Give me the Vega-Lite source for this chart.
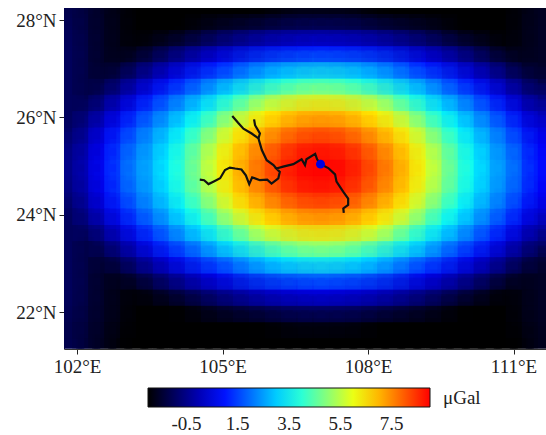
{"$schema":"https://vega.github.io/schema/vega-lite/v6.json","width":482,"height":341,"autosize":"none","padding":{"left":64,"top":8,"right":0,"bottom":86},"background":"white","config":{"view":{"stroke":null},"font":"Liberation Serif"},
"datasets":{"grid":[
{"x":101.9,"y":28.13,"v":-1.15},{"x":102.23,"y":28.13,"v":-1.4},{"x":102.56,"y":28.13,"v":-1.65},{"x":102.89,"y":28.13,"v":-1.85},{"x":103.22,"y":28.13,"v":-2},{"x":103.55,"y":28.13,"v":-2},{"x":103.89,"y":28.13,"v":-2},{"x":104.22,"y":28.13,"v":-2},{"x":104.55,"y":28.13,"v":-2},{"x":104.88,"y":28.13,"v":-2},{"x":105.21,"y":28.13,"v":-2},{"x":105.54,"y":28.13,"v":-2},{"x":105.87,"y":28.13,"v":-1.95},{"x":106.2,"y":28.13,"v":-1.85},{"x":106.53,"y":28.13,"v":-1.75},{"x":106.87,"y":28.13,"v":-1.75},{"x":107.2,"y":28.13,"v":-1.75},{"x":107.53,"y":28.13,"v":-1.75},{"x":107.86,"y":28.13,"v":-1.85},{"x":108.19,"y":28.13,"v":-1.95},{"x":108.52,"y":28.13,"v":-2},{"x":108.85,"y":28.13,"v":-2},{"x":109.18,"y":28.13,"v":-2},{"x":109.52,"y":28.13,"v":-2},{"x":109.85,"y":28.13,"v":-2},{"x":110.18,"y":28.13,"v":-2},{"x":110.51,"y":28.13,"v":-2},{"x":110.84,"y":28.13,"v":-2},{"x":111.17,"y":28.13,"v":-1.85},{"x":111.5,"y":28.13,"v":-1.65},
{"x":101.9,"y":27.8,"v":-1.05},{"x":102.23,"y":27.8,"v":-1.35},{"x":102.56,"y":27.8,"v":-1.6},{"x":102.89,"y":27.8,"v":-1.8},{"x":103.22,"y":27.8,"v":-2},{"x":103.55,"y":27.8,"v":-2},{"x":103.89,"y":27.8,"v":-2},{"x":104.22,"y":27.8,"v":-1.9},{"x":104.55,"y":27.8,"v":-1.65},{"x":104.88,"y":27.8,"v":-1.4},{"x":105.21,"y":27.8,"v":-1.2},{"x":105.54,"y":27.8,"v":-1},{"x":105.87,"y":27.8,"v":-0.85},{"x":106.2,"y":27.8,"v":-0.7},{"x":106.53,"y":27.8,"v":-0.65},{"x":106.87,"y":27.8,"v":-0.6},{"x":107.2,"y":27.8,"v":-0.6},{"x":107.53,"y":27.8,"v":-0.65},{"x":107.86,"y":27.8,"v":-0.7},{"x":108.19,"y":27.8,"v":-0.85},{"x":108.52,"y":27.8,"v":-1},{"x":108.85,"y":27.8,"v":-1.2},{"x":109.18,"y":27.8,"v":-1.4},{"x":109.52,"y":27.8,"v":-1.65},{"x":109.85,"y":27.8,"v":-1.9},{"x":110.18,"y":27.8,"v":-2},{"x":110.51,"y":27.8,"v":-2},{"x":110.84,"y":27.8,"v":-2},{"x":111.17,"y":27.8,"v":-1.8},{"x":111.5,"y":27.8,"v":-1.6},
{"x":101.9,"y":27.47,"v":-1},{"x":102.23,"y":27.47,"v":-1.3},{"x":102.56,"y":27.47,"v":-1.6},{"x":102.89,"y":27.47,"v":-1.8},{"x":103.22,"y":27.47,"v":-1.9},{"x":103.55,"y":27.47,"v":-1.6},{"x":103.89,"y":27.47,"v":-1.25},{"x":104.22,"y":27.47,"v":-0.9},{"x":104.55,"y":27.47,"v":-0.6},{"x":104.88,"y":27.47,"v":-0.3},{"x":105.21,"y":27.47,"v":-0.05},{"x":105.54,"y":27.47,"v":0.2},{"x":105.87,"y":27.47,"v":0.4},{"x":106.2,"y":27.47,"v":0.55},{"x":106.53,"y":27.47,"v":0.65},{"x":106.87,"y":27.47,"v":0.7},{"x":107.2,"y":27.47,"v":0.7},{"x":107.53,"y":27.47,"v":0.65},{"x":107.86,"y":27.47,"v":0.55},{"x":108.19,"y":27.47,"v":0.4},{"x":108.52,"y":27.47,"v":0.2},{"x":108.85,"y":27.47,"v":-0.05},{"x":109.18,"y":27.47,"v":-0.3},{"x":109.52,"y":27.47,"v":-0.6},{"x":109.85,"y":27.47,"v":-0.9},{"x":110.18,"y":27.47,"v":-1.25},{"x":110.51,"y":27.47,"v":-1.6},{"x":110.84,"y":27.47,"v":-1.9},{"x":111.17,"y":27.47,"v":-1.8},{"x":111.5,"y":27.47,"v":-1.6},
{"x":101.9,"y":27.13,"v":-1},{"x":102.23,"y":27.13,"v":-1.3},{"x":102.56,"y":27.13,"v":-1.6},{"x":102.89,"y":27.13,"v":-1.6},{"x":103.22,"y":27.13,"v":-1.15},{"x":103.55,"y":27.13,"v":-0.75},{"x":103.89,"y":27.13,"v":-0.3},{"x":104.22,"y":27.13,"v":0.1},{"x":104.55,"y":27.13,"v":0.5},{"x":104.88,"y":27.13,"v":0.85},{"x":105.21,"y":27.13,"v":1.2},{"x":105.54,"y":27.13,"v":1.55},{"x":105.87,"y":27.13,"v":1.8},{"x":106.2,"y":27.13,"v":2.05},{"x":106.53,"y":27.13,"v":2.15},{"x":106.87,"y":27.13,"v":2.25},{"x":107.2,"y":27.13,"v":2.25},{"x":107.53,"y":27.13,"v":2.15},{"x":107.86,"y":27.13,"v":2.05},{"x":108.19,"y":27.13,"v":1.8},{"x":108.52,"y":27.13,"v":1.55},{"x":108.85,"y":27.13,"v":1.2},{"x":109.18,"y":27.13,"v":0.85},{"x":109.52,"y":27.13,"v":0.5},{"x":109.85,"y":27.13,"v":0.1},{"x":110.18,"y":27.13,"v":-0.3},{"x":110.51,"y":27.13,"v":-0.75},{"x":110.84,"y":27.13,"v":-1.15},{"x":111.17,"y":27.13,"v":-1.6},{"x":111.5,"y":27.13,"v":-1.6},
{"x":101.9,"y":26.8,"v":-1},{"x":102.23,"y":26.8,"v":-1.3},{"x":102.56,"y":26.8,"v":-1.35},{"x":102.89,"y":26.8,"v":-0.85},{"x":103.22,"y":26.8,"v":-0.35},{"x":103.55,"y":26.8,"v":0.15},{"x":103.89,"y":26.8,"v":0.65},{"x":104.22,"y":26.8,"v":1.15},{"x":104.55,"y":26.8,"v":1.6},{"x":104.88,"y":26.8,"v":2.05},{"x":105.21,"y":26.8,"v":2.45},{"x":105.54,"y":26.8,"v":2.85},{"x":105.87,"y":26.8,"v":3.2},{"x":106.2,"y":26.8,"v":3.5},{"x":106.53,"y":26.8,"v":3.75},{"x":106.87,"y":26.8,"v":3.85},{"x":107.2,"y":26.8,"v":3.85},{"x":107.53,"y":26.8,"v":3.75},{"x":107.86,"y":26.8,"v":3.5},{"x":108.19,"y":26.8,"v":3.2},{"x":108.52,"y":26.8,"v":2.85},{"x":108.85,"y":26.8,"v":2.45},{"x":109.18,"y":26.8,"v":2.05},{"x":109.52,"y":26.8,"v":1.6},{"x":109.85,"y":26.8,"v":1.15},{"x":110.18,"y":26.8,"v":0.65},{"x":110.51,"y":26.8,"v":0.15},{"x":110.84,"y":26.8,"v":-0.35},{"x":111.17,"y":26.8,"v":-0.85},{"x":111.5,"y":26.8,"v":-1.35},
{"x":101.9,"y":26.46,"v":-1},{"x":102.23,"y":26.46,"v":-1.25},{"x":102.56,"y":26.46,"v":-0.7},{"x":102.89,"y":26.46,"v":-0.15},{"x":103.22,"y":26.46,"v":0.4},{"x":103.55,"y":26.46,"v":1.05},{"x":103.89,"y":26.46,"v":1.6},{"x":104.22,"y":26.46,"v":2.1},{"x":104.55,"y":26.46,"v":2.55},{"x":104.88,"y":26.46,"v":3.15},{"x":105.21,"y":26.46,"v":3.7},{"x":105.54,"y":26.46,"v":4.2},{"x":105.87,"y":26.46,"v":4.75},{"x":106.2,"y":26.46,"v":5.15},{"x":106.53,"y":26.46,"v":5.45},{"x":106.87,"y":26.46,"v":5.6},{"x":107.2,"y":26.46,"v":5.6},{"x":107.53,"y":26.46,"v":5.45},{"x":107.86,"y":26.46,"v":5.15},{"x":108.19,"y":26.46,"v":4.75},{"x":108.52,"y":26.46,"v":4.2},{"x":108.85,"y":26.46,"v":3.7},{"x":109.18,"y":26.46,"v":3.15},{"x":109.52,"y":26.46,"v":2.55},{"x":109.85,"y":26.46,"v":2.1},{"x":110.18,"y":26.46,"v":1.6},{"x":110.51,"y":26.46,"v":1.05},{"x":110.84,"y":26.46,"v":0.4},{"x":111.17,"y":26.46,"v":-0.15},{"x":111.5,"y":26.46,"v":-0.7},
{"x":101.9,"y":26.13,"v":-1},{"x":102.23,"y":26.13,"v":-0.7},{"x":102.56,"y":26.13,"v":-0.1},{"x":102.89,"y":26.13,"v":0.5},{"x":103.22,"y":26.13,"v":1.2},{"x":103.55,"y":26.13,"v":1.75},{"x":103.89,"y":26.13,"v":2.3},{"x":104.22,"y":26.13,"v":2.85},{"x":104.55,"y":26.13,"v":3.5},{"x":104.88,"y":26.13,"v":4.15},{"x":105.21,"y":26.13,"v":4.9},{"x":105.54,"y":26.13,"v":5.55},{"x":105.87,"y":26.13,"v":6.2},{"x":106.2,"y":26.13,"v":6.5},{"x":106.53,"y":26.13,"v":6.75},{"x":106.87,"y":26.13,"v":6.85},{"x":107.2,"y":26.13,"v":6.85},{"x":107.53,"y":26.13,"v":6.75},{"x":107.86,"y":26.13,"v":6.5},{"x":108.19,"y":26.13,"v":6.2},{"x":108.52,"y":26.13,"v":5.55},{"x":108.85,"y":26.13,"v":4.9},{"x":109.18,"y":26.13,"v":4.15},{"x":109.52,"y":26.13,"v":3.5},{"x":109.85,"y":26.13,"v":2.85},{"x":110.18,"y":26.13,"v":2.3},{"x":110.51,"y":26.13,"v":1.75},{"x":110.84,"y":26.13,"v":1.2},{"x":111.17,"y":26.13,"v":0.5},{"x":111.5,"y":26.13,"v":-0.1},
{"x":101.9,"y":25.8,"v":-0.9},{"x":102.23,"y":25.8,"v":-0.25},{"x":102.56,"y":25.8,"v":0.4},{"x":102.89,"y":25.8,"v":1.1},{"x":103.22,"y":25.8,"v":1.75},{"x":103.55,"y":25.8,"v":2.3},{"x":103.89,"y":25.8,"v":2.85},{"x":104.22,"y":25.8,"v":3.55},{"x":104.55,"y":25.8,"v":4.25},{"x":104.88,"y":25.8,"v":5.1},{"x":105.21,"y":25.8,"v":5.9},{"x":105.54,"y":25.8,"v":6.55},{"x":105.87,"y":25.8,"v":7},{"x":106.2,"y":25.8,"v":7.4},{"x":106.53,"y":25.8,"v":7.7},{"x":106.87,"y":25.8,"v":7.85},{"x":107.2,"y":25.8,"v":7.85},{"x":107.53,"y":25.8,"v":7.7},{"x":107.86,"y":25.8,"v":7.4},{"x":108.19,"y":25.8,"v":7},{"x":108.52,"y":25.8,"v":6.55},{"x":108.85,"y":25.8,"v":5.9},{"x":109.18,"y":25.8,"v":5.1},{"x":109.52,"y":25.8,"v":4.25},{"x":109.85,"y":25.8,"v":3.55},{"x":110.18,"y":25.8,"v":2.85},{"x":110.51,"y":25.8,"v":2.3},{"x":110.84,"y":25.8,"v":1.75},{"x":111.17,"y":25.8,"v":1.1},{"x":111.5,"y":25.8,"v":0.4},
{"x":101.9,"y":25.46,"v":-0.65},{"x":102.23,"y":25.46,"v":0},{"x":102.56,"y":25.46,"v":0.7},{"x":102.89,"y":25.46,"v":1.5},{"x":103.22,"y":25.46,"v":2.05},{"x":103.55,"y":25.46,"v":2.6},{"x":103.89,"y":25.46,"v":3.25},{"x":104.22,"y":25.46,"v":4},{"x":104.55,"y":25.46,"v":4.85},{"x":104.88,"y":25.46,"v":5.65},{"x":105.21,"y":25.46,"v":6.5},{"x":105.54,"y":25.46,"v":7.1},{"x":105.87,"y":25.46,"v":7.6},{"x":106.2,"y":25.46,"v":8.1},{"x":106.53,"y":25.46,"v":8.45},{"x":106.87,"y":25.46,"v":8.6},{"x":107.2,"y":25.46,"v":8.6},{"x":107.53,"y":25.46,"v":8.45},{"x":107.86,"y":25.46,"v":8.1},{"x":108.19,"y":25.46,"v":7.6},{"x":108.52,"y":25.46,"v":7.1},{"x":108.85,"y":25.46,"v":6.5},{"x":109.18,"y":25.46,"v":5.65},{"x":109.52,"y":25.46,"v":4.85},{"x":109.85,"y":25.46,"v":4},{"x":110.18,"y":25.46,"v":3.25},{"x":110.51,"y":25.46,"v":2.6},{"x":110.84,"y":25.46,"v":2.05},{"x":111.17,"y":25.46,"v":1.5},{"x":111.5,"y":25.46,"v":0.7},
{"x":101.9,"y":25.13,"v":-0.5},{"x":102.23,"y":25.13,"v":0.2},{"x":102.56,"y":25.13,"v":0.9},{"x":102.89,"y":25.13,"v":1.65},{"x":103.22,"y":25.13,"v":2.3},{"x":103.55,"y":25.13,"v":2.75},{"x":103.89,"y":25.13,"v":3.5},{"x":104.22,"y":25.13,"v":4.2},{"x":104.55,"y":25.13,"v":5.1},{"x":104.88,"y":25.13,"v":6},{"x":105.21,"y":25.13,"v":6.75},{"x":105.54,"y":25.13,"v":7.4},{"x":105.87,"y":25.13,"v":7.95},{"x":106.2,"y":25.13,"v":8.5},{"x":106.53,"y":25.13,"v":8.85},{"x":106.87,"y":25.13,"v":8.95},{"x":107.2,"y":25.13,"v":8.95},{"x":107.53,"y":25.13,"v":8.85},{"x":107.86,"y":25.13,"v":8.5},{"x":108.19,"y":25.13,"v":7.95},{"x":108.52,"y":25.13,"v":7.4},{"x":108.85,"y":25.13,"v":6.75},{"x":109.18,"y":25.13,"v":6},{"x":109.52,"y":25.13,"v":5.1},{"x":109.85,"y":25.13,"v":4.2},{"x":110.18,"y":25.13,"v":3.5},{"x":110.51,"y":25.13,"v":2.75},{"x":110.84,"y":25.13,"v":2.3},{"x":111.17,"y":25.13,"v":1.65},{"x":111.5,"y":25.13,"v":0.9},
{"x":101.9,"y":24.79,"v":-0.5},{"x":102.23,"y":24.79,"v":0.2},{"x":102.56,"y":24.79,"v":0.9},{"x":102.89,"y":24.79,"v":1.65},{"x":103.22,"y":24.79,"v":2.3},{"x":103.55,"y":24.79,"v":2.75},{"x":103.89,"y":24.79,"v":3.5},{"x":104.22,"y":24.79,"v":4.2},{"x":104.55,"y":24.79,"v":5.1},{"x":104.88,"y":24.79,"v":6},{"x":105.21,"y":24.79,"v":6.75},{"x":105.54,"y":24.79,"v":7.4},{"x":105.87,"y":24.79,"v":7.95},{"x":106.2,"y":24.79,"v":8.5},{"x":106.53,"y":24.79,"v":8.85},{"x":106.87,"y":24.79,"v":8.95},{"x":107.2,"y":24.79,"v":8.95},{"x":107.53,"y":24.79,"v":8.85},{"x":107.86,"y":24.79,"v":8.5},{"x":108.19,"y":24.79,"v":7.95},{"x":108.52,"y":24.79,"v":7.4},{"x":108.85,"y":24.79,"v":6.75},{"x":109.18,"y":24.79,"v":6},{"x":109.52,"y":24.79,"v":5.1},{"x":109.85,"y":24.79,"v":4.2},{"x":110.18,"y":24.79,"v":3.5},{"x":110.51,"y":24.79,"v":2.75},{"x":110.84,"y":24.79,"v":2.3},{"x":111.17,"y":24.79,"v":1.65},{"x":111.5,"y":24.79,"v":0.9},
{"x":101.9,"y":24.46,"v":-0.65},{"x":102.23,"y":24.46,"v":0},{"x":102.56,"y":24.46,"v":0.7},{"x":102.89,"y":24.46,"v":1.5},{"x":103.22,"y":24.46,"v":2.05},{"x":103.55,"y":24.46,"v":2.6},{"x":103.89,"y":24.46,"v":3.25},{"x":104.22,"y":24.46,"v":4},{"x":104.55,"y":24.46,"v":4.85},{"x":104.88,"y":24.46,"v":5.65},{"x":105.21,"y":24.46,"v":6.5},{"x":105.54,"y":24.46,"v":7.1},{"x":105.87,"y":24.46,"v":7.6},{"x":106.2,"y":24.46,"v":8.1},{"x":106.53,"y":24.46,"v":8.45},{"x":106.87,"y":24.46,"v":8.6},{"x":107.2,"y":24.46,"v":8.6},{"x":107.53,"y":24.46,"v":8.45},{"x":107.86,"y":24.46,"v":8.1},{"x":108.19,"y":24.46,"v":7.6},{"x":108.52,"y":24.46,"v":7.1},{"x":108.85,"y":24.46,"v":6.5},{"x":109.18,"y":24.46,"v":5.65},{"x":109.52,"y":24.46,"v":4.85},{"x":109.85,"y":24.46,"v":4},{"x":110.18,"y":24.46,"v":3.25},{"x":110.51,"y":24.46,"v":2.6},{"x":110.84,"y":24.46,"v":2.05},{"x":111.17,"y":24.46,"v":1.5},{"x":111.5,"y":24.46,"v":0.7},
{"x":101.9,"y":24.12,"v":-0.9},{"x":102.23,"y":24.12,"v":-0.25},{"x":102.56,"y":24.12,"v":0.4},{"x":102.89,"y":24.12,"v":1.1},{"x":103.22,"y":24.12,"v":1.75},{"x":103.55,"y":24.12,"v":2.3},{"x":103.89,"y":24.12,"v":2.85},{"x":104.22,"y":24.12,"v":3.55},{"x":104.55,"y":24.12,"v":4.25},{"x":104.88,"y":24.12,"v":5.1},{"x":105.21,"y":24.12,"v":5.9},{"x":105.54,"y":24.12,"v":6.55},{"x":105.87,"y":24.12,"v":7},{"x":106.2,"y":24.12,"v":7.4},{"x":106.53,"y":24.12,"v":7.7},{"x":106.87,"y":24.12,"v":7.85},{"x":107.2,"y":24.12,"v":7.85},{"x":107.53,"y":24.12,"v":7.7},{"x":107.86,"y":24.12,"v":7.4},{"x":108.19,"y":24.12,"v":7},{"x":108.52,"y":24.12,"v":6.55},{"x":108.85,"y":24.12,"v":5.9},{"x":109.18,"y":24.12,"v":5.1},{"x":109.52,"y":24.12,"v":4.25},{"x":109.85,"y":24.12,"v":3.55},{"x":110.18,"y":24.12,"v":2.85},{"x":110.51,"y":24.12,"v":2.3},{"x":110.84,"y":24.12,"v":1.75},{"x":111.17,"y":24.12,"v":1.1},{"x":111.5,"y":24.12,"v":0.4},
{"x":101.9,"y":23.79,"v":-1},{"x":102.23,"y":23.79,"v":-0.7},{"x":102.56,"y":23.79,"v":-0.1},{"x":102.89,"y":23.79,"v":0.5},{"x":103.22,"y":23.79,"v":1.2},{"x":103.55,"y":23.79,"v":1.75},{"x":103.89,"y":23.79,"v":2.3},{"x":104.22,"y":23.79,"v":2.85},{"x":104.55,"y":23.79,"v":3.5},{"x":104.88,"y":23.79,"v":4.15},{"x":105.21,"y":23.79,"v":4.9},{"x":105.54,"y":23.79,"v":5.55},{"x":105.87,"y":23.79,"v":6.2},{"x":106.2,"y":23.79,"v":6.5},{"x":106.53,"y":23.79,"v":6.75},{"x":106.87,"y":23.79,"v":6.85},{"x":107.2,"y":23.79,"v":6.85},{"x":107.53,"y":23.79,"v":6.75},{"x":107.86,"y":23.79,"v":6.5},{"x":108.19,"y":23.79,"v":6.2},{"x":108.52,"y":23.79,"v":5.55},{"x":108.85,"y":23.79,"v":4.9},{"x":109.18,"y":23.79,"v":4.15},{"x":109.52,"y":23.79,"v":3.5},{"x":109.85,"y":23.79,"v":2.85},{"x":110.18,"y":23.79,"v":2.3},{"x":110.51,"y":23.79,"v":1.75},{"x":110.84,"y":23.79,"v":1.2},{"x":111.17,"y":23.79,"v":0.5},{"x":111.5,"y":23.79,"v":-0.1},
{"x":101.9,"y":23.46,"v":-1},{"x":102.23,"y":23.46,"v":-1.25},{"x":102.56,"y":23.46,"v":-0.7},{"x":102.89,"y":23.46,"v":-0.15},{"x":103.22,"y":23.46,"v":0.4},{"x":103.55,"y":23.46,"v":1.05},{"x":103.89,"y":23.46,"v":1.6},{"x":104.22,"y":23.46,"v":2.1},{"x":104.55,"y":23.46,"v":2.55},{"x":104.88,"y":23.46,"v":3.15},{"x":105.21,"y":23.46,"v":3.7},{"x":105.54,"y":23.46,"v":4.2},{"x":105.87,"y":23.46,"v":4.75},{"x":106.2,"y":23.46,"v":5.15},{"x":106.53,"y":23.46,"v":5.45},{"x":106.87,"y":23.46,"v":5.6},{"x":107.2,"y":23.46,"v":5.6},{"x":107.53,"y":23.46,"v":5.45},{"x":107.86,"y":23.46,"v":5.15},{"x":108.19,"y":23.46,"v":4.75},{"x":108.52,"y":23.46,"v":4.2},{"x":108.85,"y":23.46,"v":3.7},{"x":109.18,"y":23.46,"v":3.15},{"x":109.52,"y":23.46,"v":2.55},{"x":109.85,"y":23.46,"v":2.1},{"x":110.18,"y":23.46,"v":1.6},{"x":110.51,"y":23.46,"v":1.05},{"x":110.84,"y":23.46,"v":0.4},{"x":111.17,"y":23.46,"v":-0.15},{"x":111.5,"y":23.46,"v":-0.7},
{"x":101.9,"y":23.12,"v":-1},{"x":102.23,"y":23.12,"v":-1.3},{"x":102.56,"y":23.12,"v":-1.35},{"x":102.89,"y":23.12,"v":-0.85},{"x":103.22,"y":23.12,"v":-0.35},{"x":103.55,"y":23.12,"v":0.15},{"x":103.89,"y":23.12,"v":0.65},{"x":104.22,"y":23.12,"v":1.15},{"x":104.55,"y":23.12,"v":1.6},{"x":104.88,"y":23.12,"v":2.05},{"x":105.21,"y":23.12,"v":2.45},{"x":105.54,"y":23.12,"v":2.85},{"x":105.87,"y":23.12,"v":3.2},{"x":106.2,"y":23.12,"v":3.5},{"x":106.53,"y":23.12,"v":3.75},{"x":106.87,"y":23.12,"v":3.85},{"x":107.2,"y":23.12,"v":3.85},{"x":107.53,"y":23.12,"v":3.75},{"x":107.86,"y":23.12,"v":3.5},{"x":108.19,"y":23.12,"v":3.2},{"x":108.52,"y":23.12,"v":2.85},{"x":108.85,"y":23.12,"v":2.45},{"x":109.18,"y":23.12,"v":2.05},{"x":109.52,"y":23.12,"v":1.6},{"x":109.85,"y":23.12,"v":1.15},{"x":110.18,"y":23.12,"v":0.65},{"x":110.51,"y":23.12,"v":0.15},{"x":110.84,"y":23.12,"v":-0.35},{"x":111.17,"y":23.12,"v":-0.85},{"x":111.5,"y":23.12,"v":-1.35},
{"x":101.9,"y":22.79,"v":-1},{"x":102.23,"y":22.79,"v":-1.3},{"x":102.56,"y":22.79,"v":-1.6},{"x":102.89,"y":22.79,"v":-1.6},{"x":103.22,"y":22.79,"v":-1.15},{"x":103.55,"y":22.79,"v":-0.75},{"x":103.89,"y":22.79,"v":-0.3},{"x":104.22,"y":22.79,"v":0.1},{"x":104.55,"y":22.79,"v":0.5},{"x":104.88,"y":22.79,"v":0.85},{"x":105.21,"y":22.79,"v":1.2},{"x":105.54,"y":22.79,"v":1.55},{"x":105.87,"y":22.79,"v":1.8},{"x":106.2,"y":22.79,"v":2.05},{"x":106.53,"y":22.79,"v":2.15},{"x":106.87,"y":22.79,"v":2.25},{"x":107.2,"y":22.79,"v":2.25},{"x":107.53,"y":22.79,"v":2.15},{"x":107.86,"y":22.79,"v":2.05},{"x":108.19,"y":22.79,"v":1.8},{"x":108.52,"y":22.79,"v":1.55},{"x":108.85,"y":22.79,"v":1.2},{"x":109.18,"y":22.79,"v":0.85},{"x":109.52,"y":22.79,"v":0.5},{"x":109.85,"y":22.79,"v":0.1},{"x":110.18,"y":22.79,"v":-0.3},{"x":110.51,"y":22.79,"v":-0.75},{"x":110.84,"y":22.79,"v":-1.15},{"x":111.17,"y":22.79,"v":-1.6},{"x":111.5,"y":22.79,"v":-1.6},
{"x":101.9,"y":22.46,"v":-1},{"x":102.23,"y":22.46,"v":-1.3},{"x":102.56,"y":22.46,"v":-1.6},{"x":102.89,"y":22.46,"v":-1.8},{"x":103.22,"y":22.46,"v":-1.9},{"x":103.55,"y":22.46,"v":-1.6},{"x":103.89,"y":22.46,"v":-1.25},{"x":104.22,"y":22.46,"v":-0.9},{"x":104.55,"y":22.46,"v":-0.6},{"x":104.88,"y":22.46,"v":-0.3},{"x":105.21,"y":22.46,"v":-0.05},{"x":105.54,"y":22.46,"v":0.2},{"x":105.87,"y":22.46,"v":0.4},{"x":106.2,"y":22.46,"v":0.55},{"x":106.53,"y":22.46,"v":0.65},{"x":106.87,"y":22.46,"v":0.7},{"x":107.2,"y":22.46,"v":0.7},{"x":107.53,"y":22.46,"v":0.65},{"x":107.86,"y":22.46,"v":0.55},{"x":108.19,"y":22.46,"v":0.4},{"x":108.52,"y":22.46,"v":0.2},{"x":108.85,"y":22.46,"v":-0.05},{"x":109.18,"y":22.46,"v":-0.3},{"x":109.52,"y":22.46,"v":-0.6},{"x":109.85,"y":22.46,"v":-0.9},{"x":110.18,"y":22.46,"v":-1.25},{"x":110.51,"y":22.46,"v":-1.6},{"x":110.84,"y":22.46,"v":-1.9},{"x":111.17,"y":22.46,"v":-1.8},{"x":111.5,"y":22.46,"v":-1.6},
{"x":101.9,"y":22.12,"v":-1.05},{"x":102.23,"y":22.12,"v":-1.35},{"x":102.56,"y":22.12,"v":-1.6},{"x":102.89,"y":22.12,"v":-1.8},{"x":103.22,"y":22.12,"v":-2},{"x":103.55,"y":22.12,"v":-2},{"x":103.89,"y":22.12,"v":-2},{"x":104.22,"y":22.12,"v":-1.9},{"x":104.55,"y":22.12,"v":-1.65},{"x":104.88,"y":22.12,"v":-1.4},{"x":105.21,"y":22.12,"v":-1.2},{"x":105.54,"y":22.12,"v":-1},{"x":105.87,"y":22.12,"v":-0.85},{"x":106.2,"y":22.12,"v":-0.7},{"x":106.53,"y":22.12,"v":-0.65},{"x":106.87,"y":22.12,"v":-0.6},{"x":107.2,"y":22.12,"v":-0.6},{"x":107.53,"y":22.12,"v":-0.65},{"x":107.86,"y":22.12,"v":-0.7},{"x":108.19,"y":22.12,"v":-0.85},{"x":108.52,"y":22.12,"v":-1},{"x":108.85,"y":22.12,"v":-1.2},{"x":109.18,"y":22.12,"v":-1.4},{"x":109.52,"y":22.12,"v":-1.65},{"x":109.85,"y":22.12,"v":-1.9},{"x":110.18,"y":22.12,"v":-2},{"x":110.51,"y":22.12,"v":-2},{"x":110.84,"y":22.12,"v":-2},{"x":111.17,"y":22.12,"v":-1.8},{"x":111.5,"y":22.12,"v":-1.6},
{"x":101.9,"y":21.79,"v":-1.15},{"x":102.23,"y":21.79,"v":-1.4},{"x":102.56,"y":21.79,"v":-1.65},{"x":102.89,"y":21.79,"v":-1.85},{"x":103.22,"y":21.79,"v":-2},{"x":103.55,"y":21.79,"v":-2},{"x":103.89,"y":21.79,"v":-2},{"x":104.22,"y":21.79,"v":-2},{"x":104.55,"y":21.79,"v":-2},{"x":104.88,"y":21.79,"v":-2},{"x":105.21,"y":21.79,"v":-2},{"x":105.54,"y":21.79,"v":-2},{"x":105.87,"y":21.79,"v":-1.95},{"x":106.2,"y":21.79,"v":-1.85},{"x":106.53,"y":21.79,"v":-1.75},{"x":106.87,"y":21.79,"v":-1.75},{"x":107.2,"y":21.79,"v":-1.75},{"x":107.53,"y":21.79,"v":-1.75},{"x":107.86,"y":21.79,"v":-1.85},{"x":108.19,"y":21.79,"v":-1.95},{"x":108.52,"y":21.79,"v":-2},{"x":108.85,"y":21.79,"v":-2},{"x":109.18,"y":21.79,"v":-2},{"x":109.52,"y":21.79,"v":-2},{"x":109.85,"y":21.79,"v":-2},{"x":110.18,"y":21.79,"v":-2},{"x":110.51,"y":21.79,"v":-2},{"x":110.84,"y":21.79,"v":-2},{"x":111.17,"y":21.79,"v":-1.85},{"x":111.5,"y":21.79,"v":-1.65},
{"x":101.9,"y":21.46,"v":-1.15},{"x":102.23,"y":21.46,"v":-1.45},{"x":102.56,"y":21.46,"v":-1.7},{"x":102.89,"y":21.46,"v":-1.95},{"x":103.22,"y":21.46,"v":-2},{"x":103.55,"y":21.46,"v":-2},{"x":103.89,"y":21.46,"v":-2},{"x":104.22,"y":21.46,"v":-2},{"x":104.55,"y":21.46,"v":-2},{"x":104.88,"y":21.46,"v":-2},{"x":105.21,"y":21.46,"v":-2},{"x":105.54,"y":21.46,"v":-2},{"x":105.87,"y":21.46,"v":-2},{"x":106.2,"y":21.46,"v":-2},{"x":106.53,"y":21.46,"v":-2},{"x":106.87,"y":21.46,"v":-2},{"x":107.2,"y":21.46,"v":-2},{"x":107.53,"y":21.46,"v":-2},{"x":107.86,"y":21.46,"v":-2},{"x":108.19,"y":21.46,"v":-2},{"x":108.52,"y":21.46,"v":-2},{"x":108.85,"y":21.46,"v":-2},{"x":109.18,"y":21.46,"v":-2},{"x":109.52,"y":21.46,"v":-2},{"x":109.85,"y":21.46,"v":-2},{"x":110.18,"y":21.46,"v":-2},{"x":110.51,"y":21.46,"v":-2},{"x":110.84,"y":21.46,"v":-2},{"x":111.17,"y":21.46,"v":-1.95},{"x":111.5,"y":21.46,"v":-1.7}
]},
"layer":[{"data":{"name":"grid"},
"mark":{"type":"square","size":400,"opacity":1,"clip":true,"strokeWidth":0},
"encoding":{
"x":{"field":"x","type":"quantitative","scale":{"domain":[101.73,111.67],"nice":false,"zero":false},"axis":{"values":[102,105,108,111],"labelExpr":"datum.value+'°E'","grid":false,"title":null,"labelFont":"Liberation Serif","labelFontSize":19,"labelColor":"#222","labelPadding":3,"tickColor":"#222","tickSize":5,"domainColor":"#333"}},
"y":{"field":"y","type":"quantitative","scale":{"domain":[21.24,28.25],"nice":false,"zero":false},"axis":{"values":[22,24,26,28],"labelExpr":"datum.value+'°N'","grid":false,"title":null,"labelFont":"Liberation Serif","labelFontSize":19,"labelColor":"#222","labelPadding":3,"tickColor":"#222","tickSize":5,"domainColor":"#333"}},
"color":{"field":"v","type":"quantitative","scale":{"domain":[-2,0.8,3.55,4.9,6.2,9],"range":["#000000","#0000ff","#00ffff","#80ff80","#ffff00","#ff0000"],"interpolate":"rgb"},
"legend":{"orient":"none","legendX":84,"legendY":380,"direction":"horizontal","gradientLength":282,"gradientThickness":19,"gradientStrokeColor":"#111","gradientStrokeWidth":1,"values":[-0.5,1.5,3.5,5.5,7.5],"labelExpr":"''+datum.value","labelFont":"Liberation Serif","labelFontSize":19,"labelColor":"#222","labelOffset":8,"title":"μGal","titleOrient":"right","titleFont":"Liberation Serif","titleFontSize":19,"titleFontWeight":"normal","titleColor":"#222","titlePadding":12}}}},
{"data":{"name":"grid"},
"mark":{"type":"square","size":576,"opacity":0.5,"clip":true,"strokeWidth":0},
"encoding":{"x":{"field":"x","type":"quantitative"},"y":{"field":"y","type":"quantitative"},"color":{"field":"v","type":"quantitative"},"order":{"field":"x","sort":"descending"}}},
{"data":{"name":"grid"},
"mark":{"type":"square","size":1024,"opacity":0.25,"clip":true,"strokeWidth":0},
"encoding":{"x":{"field":"x","type":"quantitative"},"y":{"field":"y","type":"quantitative"},"color":{"field":"v","type":"quantitative"},"order":{"field":"y","sort":"ascending"}}},
{"data":{"values":[
{"b":"a","o":1,"x":104.53,"y":24.72},{"b":"a","o":2,"x":104.62,"y":24.71},{"b":"a","o":3,"x":104.71,"y":24.63},{"b":"a","o":4,"x":104.81,"y":24.68},{"b":"a","o":5,"x":104.95,"y":24.75},{"b":"a","o":6,"x":105.05,"y":24.92},{"b":"a","o":7,"x":105.15,"y":24.97},{"b":"a","o":8,"x":105.26,"y":24.95},{"b":"a","o":9,"x":105.39,"y":24.93},{"b":"a","o":10,"x":105.48,"y":24.81},{"b":"a","o":11,"x":105.55,"y":24.63},{"b":"a","o":12,"x":105.61,"y":24.77},{"b":"a","o":13,"x":105.77,"y":24.71},{"b":"a","o":14,"x":105.92,"y":24.72},{"b":"a","o":15,"x":106.01,"y":24.64},{"b":"a","o":16,"x":106.15,"y":24.75},{"b":"a","o":17,"x":106.18,"y":24.88},{"b":"a","o":18,"x":106.11,"y":24.95},{"b":"a","o":19,"x":106.25,"y":24.99},{"b":"a","o":20,"x":106.46,"y":25.04},{"b":"a","o":21,"x":106.63,"y":25.14},{"b":"a","o":22,"x":106.7,"y":25.02},{"b":"a","o":23,"x":106.73,"y":25.14},{"b":"a","o":24,"x":106.91,"y":25.25},{"b":"a","o":25,"x":106.95,"y":25.14},{"b":"a","o":26,"x":107.02,"y":25.04},{"b":"a","o":27,"x":107.18,"y":24.96},{"b":"a","o":28,"x":107.32,"y":24.83},{"b":"a","o":29,"x":107.35,"y":24.68},{"b":"a","o":30,"x":107.49,"y":24.47},{"b":"a","o":31,"x":107.59,"y":24.33},{"b":"a","o":32,"x":107.59,"y":24.2},{"b":"a","o":33,"x":107.49,"y":24.13},{"b":"a","o":34,"x":107.5,"y":24.04},
{"b":"b","o":1,"x":105.2,"y":26.03},{"b":"b","o":2,"x":105.32,"y":25.89},{"b":"b","o":3,"x":105.43,"y":25.77},{"b":"b","o":4,"x":105.6,"y":25.67},{"b":"b","o":5,"x":105.74,"y":25.57},{"b":"b","o":6,"x":105.81,"y":25.33},{"b":"b","o":7,"x":105.91,"y":25.12},{"b":"b","o":8,"x":106.05,"y":25.02},{"b":"b","o":9,"x":106.11,"y":24.95},
{"b":"c","o":1,"x":105.65,"y":25.96},{"b":"c","o":2,"x":105.67,"y":25.84},{"b":"c","o":3,"x":105.77,"y":25.67},{"b":"c","o":4,"x":105.74,"y":25.57}
]},
"mark":{"type":"line","color":"#111","strokeWidth":2.2,"clip":true},
"encoding":{"x":{"field":"x","type":"quantitative"},"y":{"field":"y","type":"quantitative"},"detail":{"field":"b"},"order":{"field":"o","type":"quantitative"}}},
{"data":{"values":[{"x":107.02,"y":25.04}]},
"mark":{"type":"point","filled":true,"size":80,"color":"#0000e0","opacity":1},
"encoding":{"x":{"field":"x","type":"quantitative"},"y":{"field":"y","type":"quantitative"}}}
]}
